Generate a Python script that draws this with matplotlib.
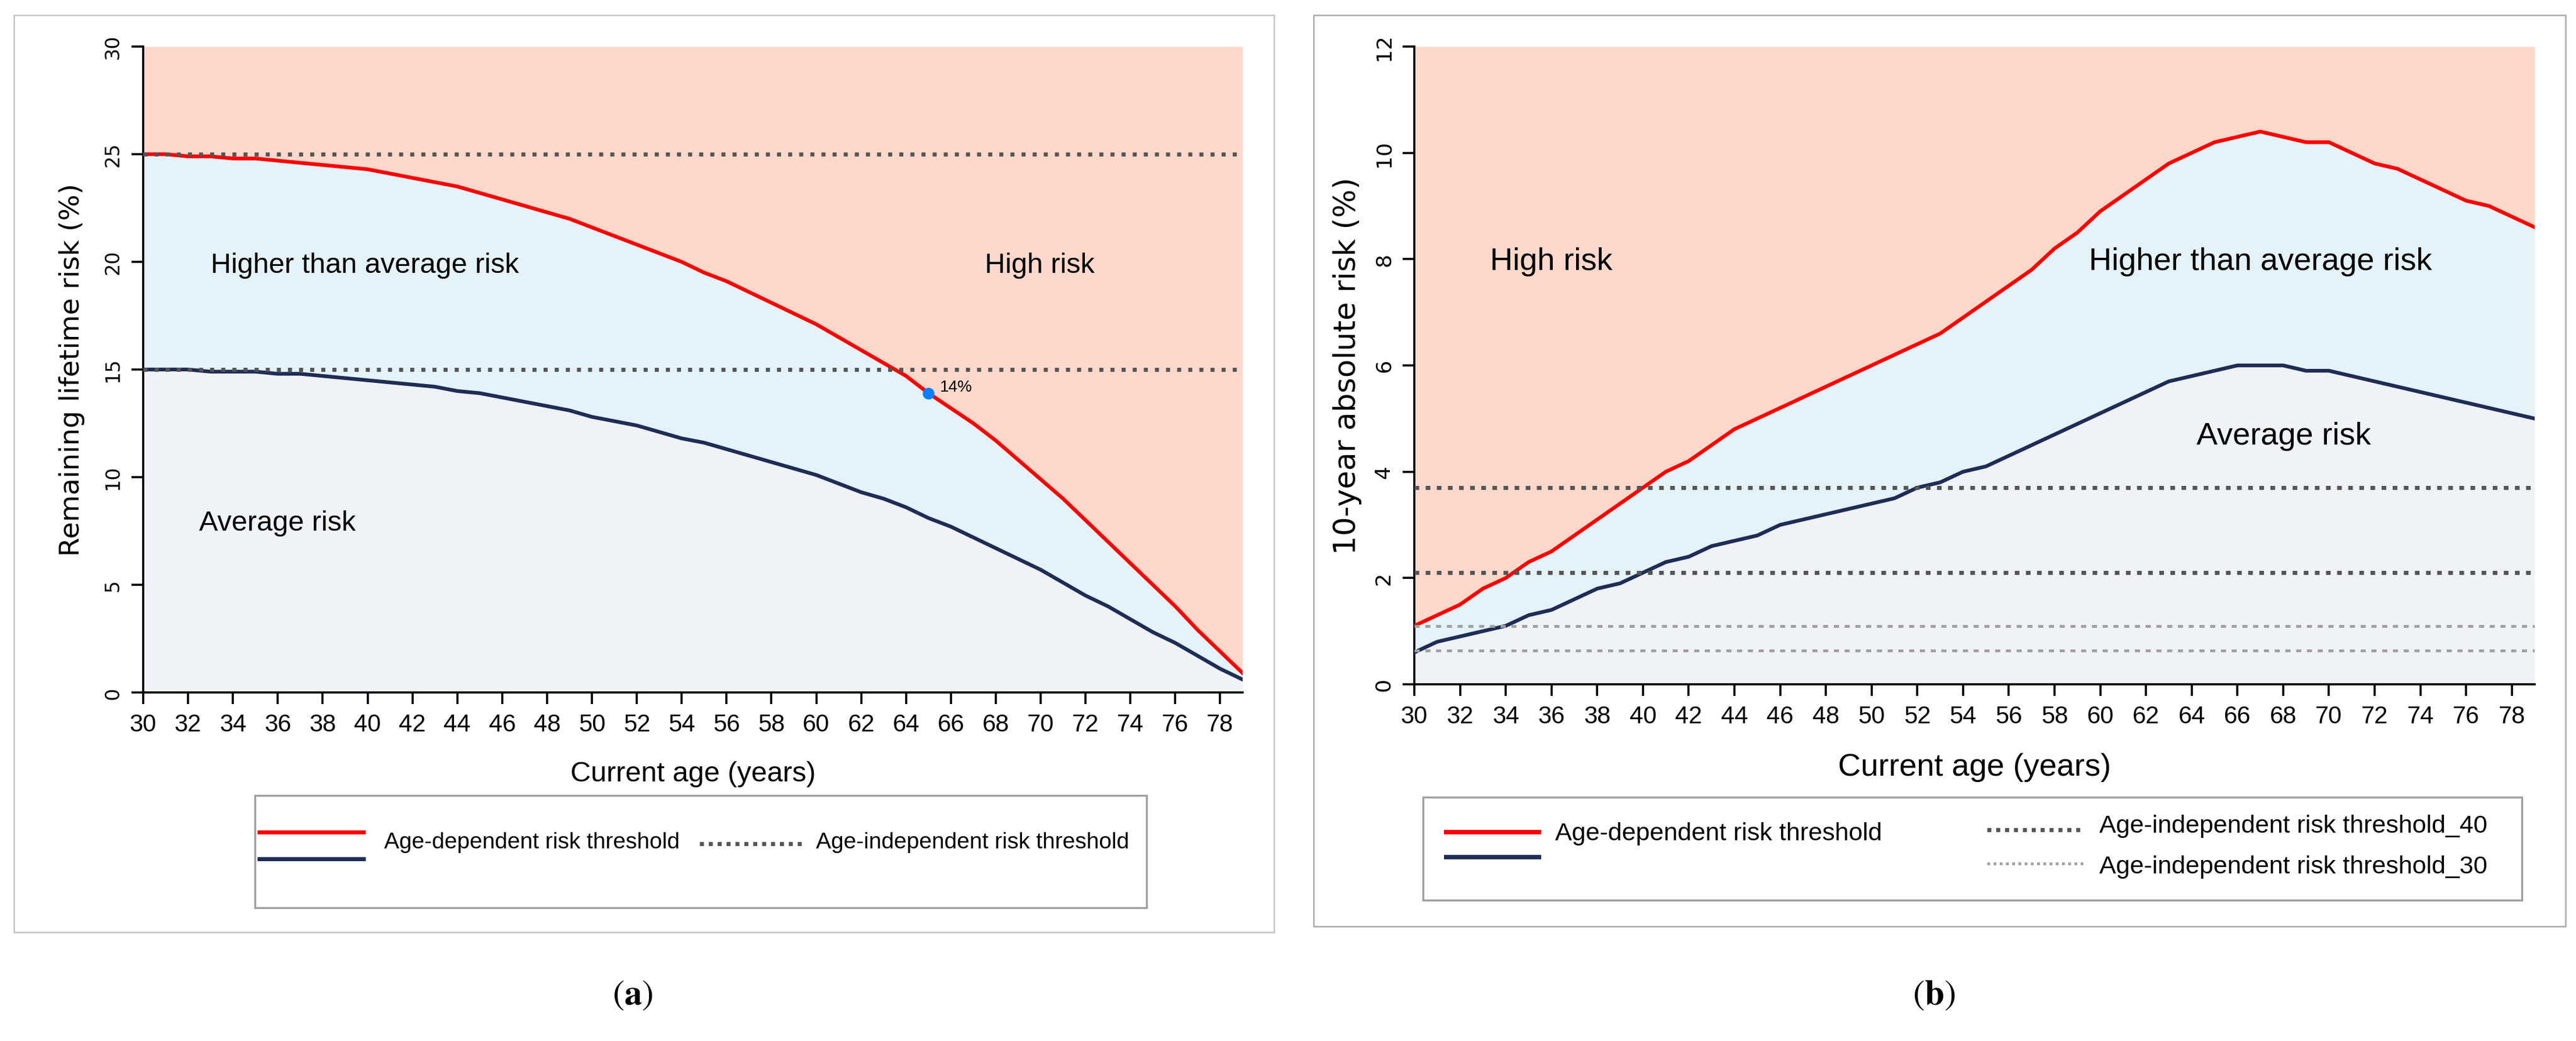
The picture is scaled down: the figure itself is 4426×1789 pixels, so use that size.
import matplotlib
matplotlib.use('Agg')
import matplotlib.pyplot as plt
from matplotlib.lines import Line2D
from matplotlib.patches import Rectangle

plt.rcParams['font.family'] = ['Liberation Sans', 'DejaVu Sans']
plt.rcParams['mathtext.fontset'] = 'stix'

W, H = 4426, 1790  # output size in pixels

# data
ages = list(range(30, 80))
lifetime_high = [25.0, 25.0, 24.9, 24.9, 24.8, 24.8, 24.7, 24.6, 24.5, 24.4,
                 24.3, 24.1, 23.9, 23.7, 23.5, 23.2, 22.9, 22.6, 22.3, 22.0,
                 21.6, 21.2, 20.8, 20.4, 20.0, 19.5, 19.1, 18.6, 18.1, 17.6,
                 17.1, 16.5, 15.9, 15.3, 14.7, 13.9, 13.2, 12.5, 11.7, 10.8,
                 9.9, 9.0, 8.0, 7.0, 6.0, 5.0, 4.0, 2.9, 1.9, 0.9]
lifetime_avg = [15.0, 15.0, 15.0, 14.9, 14.9, 14.9, 14.8, 14.8, 14.7, 14.6,
                14.5, 14.4, 14.3, 14.2, 14.0, 13.9, 13.7, 13.5, 13.3, 13.1,
                12.8, 12.6, 12.4, 12.1, 11.8, 11.6, 11.3, 11.0, 10.7, 10.4,
                10.1, 9.7, 9.3, 9.0, 8.6, 8.1, 7.7, 7.2, 6.7, 6.2,
                5.7, 5.1, 4.5, 4.0, 3.4, 2.8, 2.3, 1.7, 1.1, 0.6]
lifetime_thresholds = [25, 15]
marker_age, marker_value, marker_text = 65, 13.9, '14%'

tenyear_high = [1.1, 1.3, 1.5, 1.8, 2.0, 2.3, 2.5, 2.8, 3.1, 3.4,
                3.7, 4.0, 4.2, 4.5, 4.8, 5.0, 5.2, 5.4, 5.6, 5.8,
                6.0, 6.2, 6.4, 6.6, 6.9, 7.2, 7.5, 7.8, 8.2, 8.5,
                8.9, 9.2, 9.5, 9.8, 10.0, 10.2, 10.3, 10.4, 10.3, 10.2,
                10.2, 10.0, 9.8, 9.7, 9.5, 9.3, 9.1, 9.0, 8.8, 8.6]
tenyear_avg = [0.6, 0.8, 0.9, 1.0, 1.1, 1.3, 1.4, 1.6, 1.8, 1.9,
               2.1, 2.3, 2.4, 2.6, 2.7, 2.8, 3.0, 3.1, 3.2, 3.3,
               3.4, 3.5, 3.7, 3.8, 4.0, 4.1, 4.3, 4.5, 4.7, 4.9,
               5.1, 5.3, 5.5, 5.7, 5.8, 5.9, 6.0, 6.0, 6.0, 5.9,
               5.9, 5.8, 5.7, 5.6, 5.5, 5.4, 5.3, 5.2, 5.1, 5.0]
tenyear_thr_40 = [3.7, 2.1]
tenyear_thr_30 = [1.1, 0.63]

xticks = list(range(30, 80, 2))
lifetime_yticks = [0, 5, 10, 15, 20, 25, 30]
tenyear_yticks = [0, 2, 4, 6, 8, 10, 12]

RED = '#ff0000'
NAVY = '#1f2d55'
SALMON = '#fdd8cb'
LIGHTBLUE = '#e4f2f9'
LAVENDER = '#eff3f8'
DOT_DARK = '#555555'
DOT_LIGHT = '#a0a0a0'


def fx(px):
    return px / W


def fy(py):
    return 1 - py / H


fig = plt.figure(figsize=(W / 100, H / 100), dpi=100)

# panel frames
fig.add_artist(Rectangle((fx(24), fy(1603)), (2189 - 24) / W, (1603 - 27) / H,
                         transform=fig.transFigure, fill=False, ec='#c4c4c4', lw=1.8))
fig.add_artist(Rectangle((fx(2257), fy(1593)), (4408 - 2257) / W, (1593 - 27) / H,
                         transform=fig.transFigure, fill=False, ec='#a8a8a8', lw=1.8))


def setup(ax, top, yticks, ytick_size, ylabel, ylabel_size, xlabel_size, ylabel_x, xlabel_pad):
    ax.set_xlim(30, 79)
    ax.set_ylim(0, top)
    for s in ['top', 'right']:
        ax.spines[s].set_visible(False)
    for s in ['left', 'bottom']:
        ax.spines[s].set_linewidth(2.6)
    ax.tick_params(direction='out', length=14.5, width=2.6, pad=11)
    ax.set_xticks(xticks)
    ax.set_xticklabels([str(t) for t in xticks], fontsize=30)
    ax.set_yticks(yticks)
    ax.set_yticklabels([str(t) for t in yticks], fontsize=ytick_size,
                       family='DejaVu Sans', rotation=90, va='center')
    ax.set_xlabel('Current age (years)', fontsize=xlabel_size, labelpad=xlabel_pad)
    ax.set_ylabel(ylabel, fontsize=ylabel_size, family='DejaVu Sans')
    ax.yaxis.set_label_coords(ylabel_x, 0.5)


# ---- panel (a)
ax1 = fig.add_axes([fx(246), fy(1191), (2135 - 246) / W, (1191 - 81) / H])
ax1.fill_between(ages, lifetime_high, 30, color=SALMON, lw=0, zorder=0)
ax1.fill_between(ages, lifetime_avg, lifetime_high, color=LIGHTBLUE, lw=0, zorder=0)
ax1.fill_between(ages, 0, lifetime_avg, color=LAVENDER, lw=0, zorder=0)
ax1.plot(ages, lifetime_high, color=RED, lw=4.6, zorder=3)
ax1.plot(ages, lifetime_avg, color=NAVY, lw=4.6, zorder=3)
for v in lifetime_thresholds:
    ax1.axhline(v, color=DOT_DARK, lw=5, dashes=(1.0, 1.75), zorder=4)
ax1.plot([marker_age], [marker_value], 'o', color='#0a80ff', ms=13.5, zorder=5)
ax1.text(marker_age + 0.5, marker_value + 0.3, marker_text, fontsize=20, va='center')
ax1.text(33.0, 19.85, 'Higher than average risk', fontsize=35, va='center')
ax1.text(67.5, 19.85, 'High risk', fontsize=35, va='center')
ax1.text(32.5, 7.87, 'Average risk', fontsize=35, va='center')
setup(ax1, 30, lifetime_yticks, 24, 'Remaining lifetime risk (%)', 34, 35, -0.053, 30)

# ---- panel (b)
ax2 = fig.add_axes([fx(2430), fy(1177), (4355 - 2430) / W, (1177 - 81) / H])
ax2.fill_between(ages, tenyear_high, 12, color=SALMON, lw=0, zorder=0)
ax2.fill_between(ages, tenyear_avg, tenyear_high, color=LIGHTBLUE, lw=0, zorder=0)
ax2.fill_between(ages, 0, tenyear_avg, color=LAVENDER, lw=0, zorder=0)
ax2.plot(ages, tenyear_high, color=RED, lw=4.6, zorder=3)
ax2.plot(ages, tenyear_avg, color=NAVY, lw=4.6, zorder=3)
for v in tenyear_thr_40:
    ax2.axhline(v, color=DOT_DARK, lw=5, dashes=(1.15, 1.6), zorder=4)
for v in tenyear_thr_30:
    ax2.axhline(v, color=DOT_LIGHT, lw=3.5, dashes=(1.8, 2.0), zorder=4)
ax2.text(33.3, 7.96, 'High risk', fontsize=39, va='center')
ax2.text(59.5, 7.96, 'Higher than average risk', fontsize=39, va='center')
ax2.text(64.2, 4.67, 'Average risk', fontsize=39, va='center')
setup(ax2, 12, tenyear_yticks, 26, '10-year absolute risk (%)', 37, 39, -0.047, 30)


# ---- legends
def legbox(x0, y0, x1, y1):
    fig.add_artist(Rectangle((fx(x0), fy(y1)), (x1 - x0) / W, (y1 - y0) / H,
                             transform=fig.transFigure, fill=False, ec='#a0a0a0', lw=2.5))


def legline(x0, x1, y, **kw):
    fig.add_artist(Line2D([fx(x0), fx(x1)], [fy(y), fy(y)], transform=fig.transFigure, **kw))


legbox(438, 1368, 1970, 1561)
legline(442, 628, 1431, color=RED, lw=5, solid_capstyle='butt')
legline(442, 628, 1477, color=NAVY, lw=5, solid_capstyle='butt')
fig.text(fx(660), fy(1448), 'Age-dependent risk threshold', fontsize=28, va='center')
legline(1202, 1382, 1451, color=DOT_DARK, lw=5, dashes=(1.0, 1.2), dash_capstyle='butt')
fig.text(fx(1402), fy(1448), 'Age-independent risk threshold', fontsize=28, va='center')

legbox(2445, 1371, 4333, 1548)
legline(2481, 2648, 1431, color=RED, lw=5.5, solid_capstyle='butt')
legline(2481, 2648, 1474, color=NAVY, lw=5.5, solid_capstyle='butt')
fig.text(fx(2672), fy(1433), 'Age-dependent risk threshold', fontsize=31, va='center')
legline(3414, 3579, 1427, color=DOT_DARK, lw=5, dashes=(1.0, 1.2), dash_capstyle='butt')
fig.text(fx(3607), fy(1420), 'Age-independent risk threshold_40', fontsize=31, va='center')
legline(3414, 3579, 1485, color=DOT_LIGHT, lw=3.5, dashes=(1.0, 1.2), dash_capstyle='butt')
fig.text(fx(3607), fy(1490), 'Age-independent risk threshold_30', fontsize=31, va='center')

# captions
fig.text(fx(1087), fy(1711), r'$(\mathbf{a})$', ha='center', va='center', fontsize=44)
fig.text(fx(3323), fy(1711), r'$(\mathbf{b})$', ha='center', va='center', fontsize=44)

fig.savefig('out.png', dpi=100, facecolor='white')
